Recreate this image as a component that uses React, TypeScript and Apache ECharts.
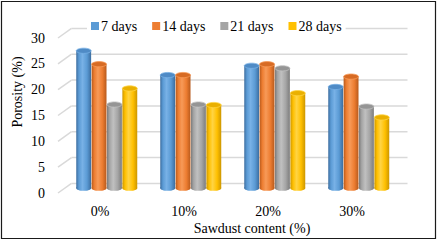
import React, { useEffect, useRef } from "react";
import * as echarts from "echarts";

const categories = ["0%", "10%", "20%", "30%"];
const seriesNames = ["7 days", "14 days", "21 days", "28 days"];
const days7 = [26.6, 21.9, 23.7, 19.6];
const days14 = [24.0, 21.9, 24.0, 21.6];
const days21 = [16.2, 16.2, 23.2, 15.8];
const days28 = [19.3, 16.1, 18.4, 13.7];
const yTicks = [0, 5, 10, 15, 20, 25, 30];

const palettes = [
  { base: "#5b9bd5", dark: "#3c6d9f", light: "#78b1e6", cap: "#4f8bc6" },
  { base: "#ed7d31", dark: "#b85a1c", light: "#f79a58", cap: "#d76b24" },
  { base: "#a5a5a5", dark: "#7c7c7c", light: "#c0c0c0", cap: "#959595" },
  { base: "#ffc000", dark: "#cc9600", light: "#ffd444", cap: "#eab000" },
];

const FONT = "'Liberation Serif', 'Times New Roman', serif";
const BACK_DX = 13.5;
const BACK_DY = -9.6;
const MID_DX = 6.75;
const MID_DY = -4.8;

export default function App() {
  const ref = useRef<HTMLDivElement>(null);
  useEffect(() => {
    document.body.style.margin = "0";
    const chart = echarts.init(ref.current!, null, { renderer: "svg" });
    const allData = [days7, days14, days21, days28];

    const barSeries = allData.map((vals, k) => {
      const p = palettes[k];
      return {
        type: "custom",
        name: seriesNames[k],
        itemStyle: { color: p.base },
        z: 3,
        data: vals.map((v, i) => [i, v]),
        encode: { x: 0, y: 1 },
        renderItem: (params: any, api: any) => {
          const idx = api.value(0);
          const val = api.value(1);
          const top = api.coord([idx, val]);
          const base = api.coord([idx, 0]);
          const band = api.size([1, 0])[0];
          const bw = band * 0.183;
          const cx = top[0] + MID_DX + (k - 1.5) * bw;
          const yTop = top[1] + MID_DY;
          const yBot = base[1] + MID_DY;
          const ry = bw * 0.17;
          const grad = () =>
            new echarts.graphic.LinearGradient(0, 0, 1, 0, [
              { offset: 0, color: p.dark },
              { offset: 0.18, color: p.base },
              { offset: 0.42, color: p.light },
              { offset: 0.72, color: p.base },
              { offset: 1, color: p.dark },
            ]);
          return {
            type: "group",
            children: [
              {
                type: "ellipse",
                shape: { cx, cy: yBot, rx: bw / 2 - 0.25, ry },
                style: { fill: grad() },
              },
              {
                type: "rect",
                shape: { x: cx - bw / 2 + 0.25, y: yTop, width: bw - 0.5, height: yBot - yTop },
                style: { fill: grad() },
              },
              {
                type: "ellipse",
                shape: { cx, cy: yTop, rx: bw / 2 - 0.25, ry },
                style: { fill: p.cap, stroke: p.light, lineWidth: 0.8 },
              },
            ],
          };
        },
      };
    });

    const gridSeries = {
      type: "custom",
      name: "grid",
      silent: true,
      z: 1,
      data: yTicks.map((t) => [0, t]),
      encode: { x: 0, y: 1 },
      renderItem: (params: any, api: any) => {
        const cs = params.coordSys;
        const pt = api.coord([0, api.value(1)]);
        const y = pt[1];
        const x0 = cs.x;
        const x1 = cs.x + cs.width;
        const style = { stroke: "#d9d9d9", lineWidth: 1.5, fill: null };
        return {
          type: "group",
          children: [
            {
              type: "line",
              shape: { x1: x0, y1: y, x2: x0 + BACK_DX, y2: y + BACK_DY },
              style,
            },
            {
              type: "line",
              shape: { x1: x0 + BACK_DX, y1: y + BACK_DY, x2: x1 + BACK_DX, y2: y + BACK_DY },
              style,
            },
          ],
        };
      },
    };

    chart.setOption({
      animation: false,
      backgroundColor: "#fff",
      textStyle: { fontFamily: FONT },
      grid: { left: 58, top: 38, width: 336, height: 155 },
      legend: {
        data: seriesNames,
        left: 87,
        top: 16,
        padding: [3, 4],
        backgroundColor: "#fff",
        itemWidth: 8,
        itemHeight: 8,
        itemGap: 15,
        icon: "rect",
        z: 10,
        textStyle: { fontFamily: FONT, fontSize: 14, color: "#000", padding: [0, 0, 0, -3] },
      },
      xAxis: {
        type: "category",
        data: categories,
        axisLine: { show: false },
        axisTick: { show: false },
        axisLabel: { fontFamily: FONT, fontSize: 14, color: "#000", margin: 11 },
      },
      yAxis: {
        type: "value",
        min: 0,
        max: 30,
        interval: 5,
        axisLine: { show: false },
        axisTick: { show: false },
        splitLine: { show: false },
        axisLabel: { fontFamily: FONT, fontSize: 14, color: "#000", margin: 13 },
      },
      graphic: [
        {
          type: "rect",
          shape: { x: 1.5, y: 1.5, width: 434, height: 237 },
          style: { fill: null, stroke: "#1a1a1a", lineWidth: 1.2 },
          z: 20,
        },
        {
          type: "text",
          x: 17,
          y: 92,
          rotation: Math.PI / 2,
          style: {
            text: "Porosity (%)",
            fontFamily: FONT,
            fontSize: 14,
            fill: "#000",
            align: "center",
            verticalAlign: "middle",
          },
        },
        {
          type: "text",
          x: 252,
          y: 228,
          style: {
            text: "Sawdust content (%)",
            fontFamily: FONT,
            fontSize: 14,
            fill: "#000",
            align: "center",
            verticalAlign: "middle",
          },
        },
      ],
      series: [gridSeries, ...barSeries],
    });
    return () => chart.dispose();
  }, []);
  return <div ref={ref} style={{ width: 438, height: 241 }} />;
}
